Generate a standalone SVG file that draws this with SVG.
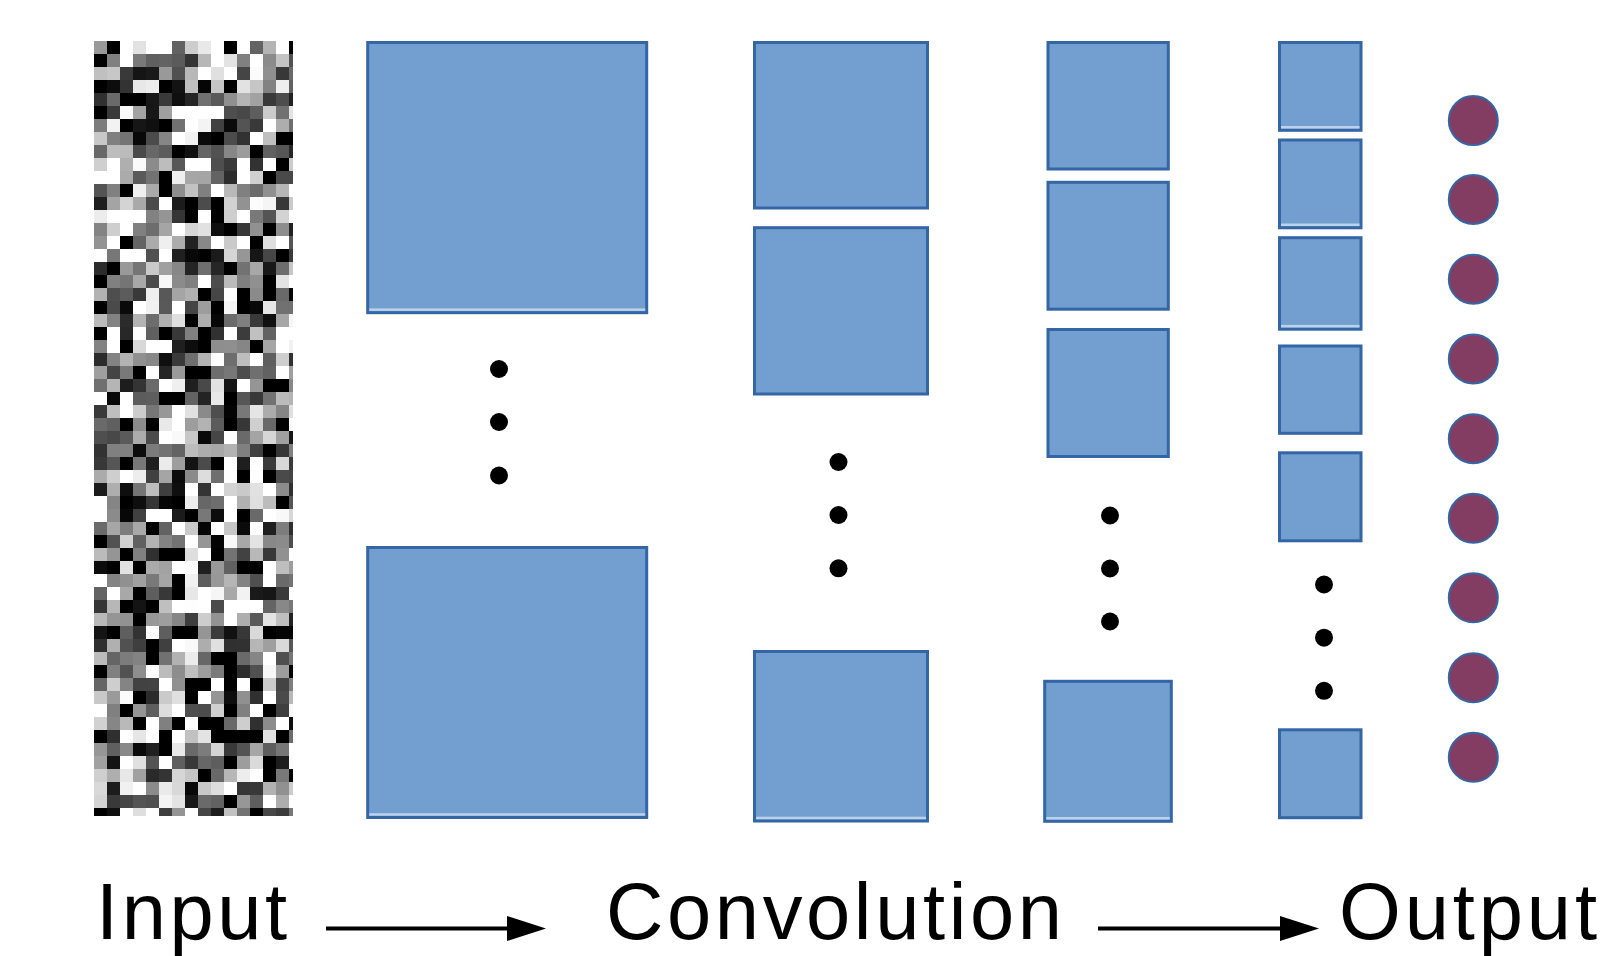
<svg xmlns="http://www.w3.org/2000/svg" width="1605" height="956" viewBox="0 0 1605 956">
  <defs>
    <style>
      .map { fill: #729fcf; stroke: #3465a4; stroke-width: 3; }
      .hl { fill: #bcd2eb; }
      .dot { fill: #000; }
      .out { fill: #833d63; stroke: #3465a4; stroke-width: 2; }
      .lbl { font-family: "Liberation Sans", Arial, sans-serif; font-size: 79.5px; fill: #000; }
      .flow { fill: none; stroke: #000; stroke-width: 4; }
    </style>
    <!-- blocky grey noise: sample turbulence on a 13px grid, then grow each sample into a cell -->
    <filter id="pixnoise" filterUnits="userSpaceOnUse" x="0" y="0" width="208" height="780" color-interpolation-filters="sRGB">
      <feTurbulence type="fractalNoise" baseFrequency="0.9" numOctaves="2" seed="11" result="noise"/>
      <feColorMatrix in="noise" type="matrix" result="gray"
        values="3.6 0 0 0 -1.3  3.6 0 0 0 -1.3  3.6 0 0 0 -1.3  0 0 0 0 1"/>
      <feFlood x="6" y="6" width="1" height="1" flood-color="#fff" result="dot"/>
      <feComposite in="dot" in2="dot" operator="over" x="0" y="0" width="13" height="13" result="cell"/>
      <feTile in="cell" result="grid"/>
      <feComposite in="gray" in2="grid" operator="in" result="spots"/>
      <feMorphology in="spots" operator="dilate" radius="6"/>
    </filter>
    <clipPath id="inputClip">
      <rect x="0" y="0" width="199" height="775"/>
    </clipPath>
    <marker id="head" markerUnits="userSpaceOnUse" markerWidth="40" markerHeight="26" refX="13" refY="12.5" orient="auto">
      <path d="M0,0 L39,12.5 L0,25 Z" fill="#000"/>
    </marker>
  </defs>

  <rect width="1605" height="956" fill="#fff"/>

  <!-- input signal -->
  <g id="input" transform="translate(94,41)">
    <g clip-path="url(#inputClip)">
      <rect x="0" y="0" width="208" height="780" fill="#888" filter="url(#pixnoise)"/>
    </g>
  </g>

  <!-- first convolution layer -->
  <g id="conv1">
    <rect class="map" x="367.7" y="42.5" width="279" height="270.2"/>
    <rect class="hl" x="369.2" y="308.4" width="276" height="2.5"/>
    <rect class="map" x="367.7" y="547.5" width="279" height="270"/>
    <rect class="hl" x="369.2" y="813.2" width="276" height="2.5"/>
    <circle class="dot" cx="499" cy="369" r="9"/>
    <circle class="dot" cx="499" cy="422" r="9"/>
    <circle class="dot" cx="499" cy="475.5" r="9"/>
  </g>

  <!-- second convolution layer -->
  <g id="conv2">
    <rect class="map" x="754.5" y="42.5" width="173" height="165.5"/>
    <rect class="map" x="754.5" y="227.7" width="173" height="166.3"/>
    <rect class="map" x="754.5" y="651.5" width="173" height="169.5"/>
    <rect class="hl" x="756" y="816.7" width="170" height="2.5"/>
    <circle class="dot" cx="838.5" cy="462" r="9"/>
    <circle class="dot" cx="838.5" cy="515" r="9"/>
    <circle class="dot" cx="838.5" cy="568.3" r="9"/>
  </g>

  <!-- third convolution layer -->
  <g id="conv3">
    <rect class="map" x="1048" y="42.5" width="120.3" height="126.5"/>
    <rect class="map" x="1048" y="182.3" width="120.3" height="126.9"/>
    <rect class="map" x="1048" y="329.5" width="120.3" height="127"/>
    <rect class="map" x="1044.7" y="681.3" width="126.6" height="140"/>
    <rect class="hl" x="1046.2" y="817" width="123.6" height="2.5"/>
    <circle class="dot" cx="1110" cy="515.5" r="9"/>
    <circle class="dot" cx="1110" cy="568.5" r="9"/>
    <circle class="dot" cx="1110" cy="621.5" r="9"/>
  </g>

  <!-- fourth convolution layer -->
  <g id="conv4">
    <rect class="map" x="1279.5" y="42.5" width="81.5" height="87.8"/>
    <rect class="hl" x="1281" y="126" width="78.5" height="2.5"/>
    <rect class="map" x="1279.5" y="140" width="81.5" height="87.8"/>
    <rect class="hl" x="1281" y="223.5" width="78.5" height="2.5"/>
    <rect class="map" x="1279.5" y="237.7" width="81.5" height="91.5"/>
    <rect class="hl" x="1281" y="324.9" width="78.5" height="2.5"/>
    <rect class="map" x="1279.5" y="346" width="81.5" height="87.3"/>
    <rect class="map" x="1279.5" y="452.8" width="81.5" height="88"/>
    <rect class="map" x="1279.5" y="729.8" width="81.5" height="87.9"/>
    <circle class="dot" cx="1324" cy="584.5" r="9"/>
    <circle class="dot" cx="1324" cy="637.7" r="9"/>
    <circle class="dot" cx="1324" cy="690.8" r="9"/>
  </g>

  <!-- output units -->
  <g id="output">
    <circle class="out" cx="1473.3" cy="120.6" r="24.5"/>
    <circle class="out" cx="1473.3" cy="199.5" r="24.5"/>
    <circle class="out" cx="1473.3" cy="279.2" r="24.5"/>
    <circle class="out" cx="1473.3" cy="359" r="24.5"/>
    <circle class="out" cx="1473.3" cy="438.7" r="24.5"/>
    <circle class="out" cx="1473.3" cy="518.3" r="24.5"/>
    <circle class="out" cx="1473.3" cy="597.8" r="24.5"/>
    <circle class="out" cx="1473.3" cy="677.7" r="24.5"/>
    <circle class="out" cx="1473.3" cy="757.3" r="24.5"/>
  </g>

  <!-- stage labels -->
  <g id="labels">
    <text class="lbl" x="96" y="938.5" textLength="191" lengthAdjust="spacing">Input</text>
    <text class="lbl" x="606" y="938.5" textLength="456" lengthAdjust="spacing">Convolution</text>
    <text class="lbl" x="1339" y="938.5" textLength="258" lengthAdjust="spacing">Output</text>
  </g>

  <!-- flow arrows -->
  <g id="connectors">
    <path class="flow" d="M326,928.5 H520" marker-end="url(#head)"/>
    <path class="flow" d="M1098,928.5 H1293" marker-end="url(#head)"/>
  </g>
</svg>
